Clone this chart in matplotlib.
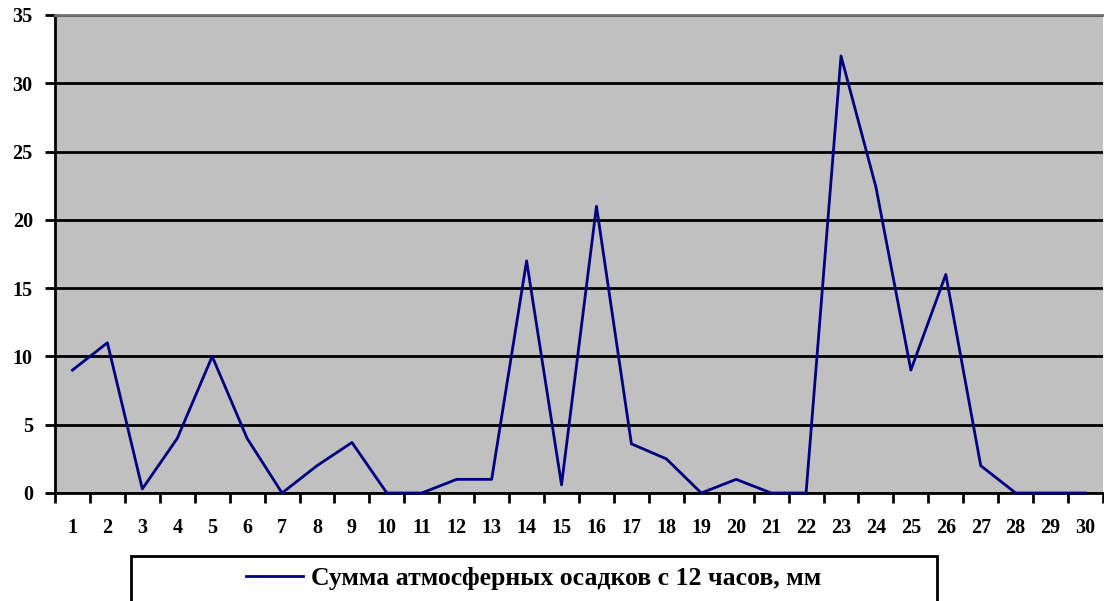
import matplotlib as mpl
import matplotlib.pyplot as plt
from matplotlib.patches import Rectangle

mpl.rcParams['font.family'] = ['Liberation Serif', 'DejaVu Serif']
mpl.rcParams['font.weight'] = 'bold'
mpl.rcParams['font.size'] = 14.5

# ---------------------------------------------------------------------------- #

days = list(range(1, 31))
precip = [9, 11, 0.3, 4, 10, 4, 0, 2, 3.7, 0,
          0, 1, 1, 17, 0.6, 21, 3.6, 2.5, 0, 1,
          0, 0, 32, 22.4, 9, 16, 2, 0, 0, 0]
y_ticks = [0, 5, 10, 15, 20, 25, 30, 35]
legend_label = 'Сумма атмосферных осадков с 12 часов, мм'

W, H = 1104, 601

# ---------------------------------------------------------------------------- #

fig = plt.figure(figsize=(W / 100, H / 100), dpi=100)
ax = fig.add_axes([55 / W, (H - 493) / H, 1048 / W, 478 / H])
ax.set_facecolor('#c0c0c0')

line, = ax.plot(days, precip, color='#000080', linewidth=2.0,
                label=legend_label, clip_on=False, zorder=3)

ax.set_xlim(0.5, 30.5)
ax.set_ylim(0, 35)

# Category ticks between the labels.
ax.set_xticks([d + 0.5 for d in [0] + days])
ax.set_xticklabels([])
ax.set_xticks(days, minor=True)
ax.set_xticklabels([str(d) for d in days], minor=True)
ax.tick_params(axis='x', which='major', direction='out', length=7, width=2)
ax.tick_params(axis='x', which='minor', length=0, pad=18)

ax.set_yticks(y_ticks)
ax.tick_params(axis='y', direction='out', length=7, width=2, pad=9)

ax.yaxis.grid(True, color='black', linewidth=2)
ax.set_axisbelow(True)

ax.spines['left'].set_linewidth(2)
ax.spines['bottom'].set_linewidth(2)
ax.spines['top'].set_color('#707070')
ax.spines['top'].set_linewidth(2)
ax.spines['right'].set_visible(False)

# Legend box (cut off by the bottom edge).
fig.patches.append(Rectangle((131 / W, -10 / H), 806 / W, (H - 556 + 10) / H,
                             transform=fig.transFigure, fill=False,
                             edgecolor='black', linewidth=2))
ax.legend(handles=[line], loc='center', frameon=False,
          bbox_to_anchor=(534 / W, 1 - 578 / H), bbox_transform=fig.transFigure,
          handlelength=2.2, handletextpad=0.32, fontsize=18.5)

fig.savefig('out.png', dpi=100)
